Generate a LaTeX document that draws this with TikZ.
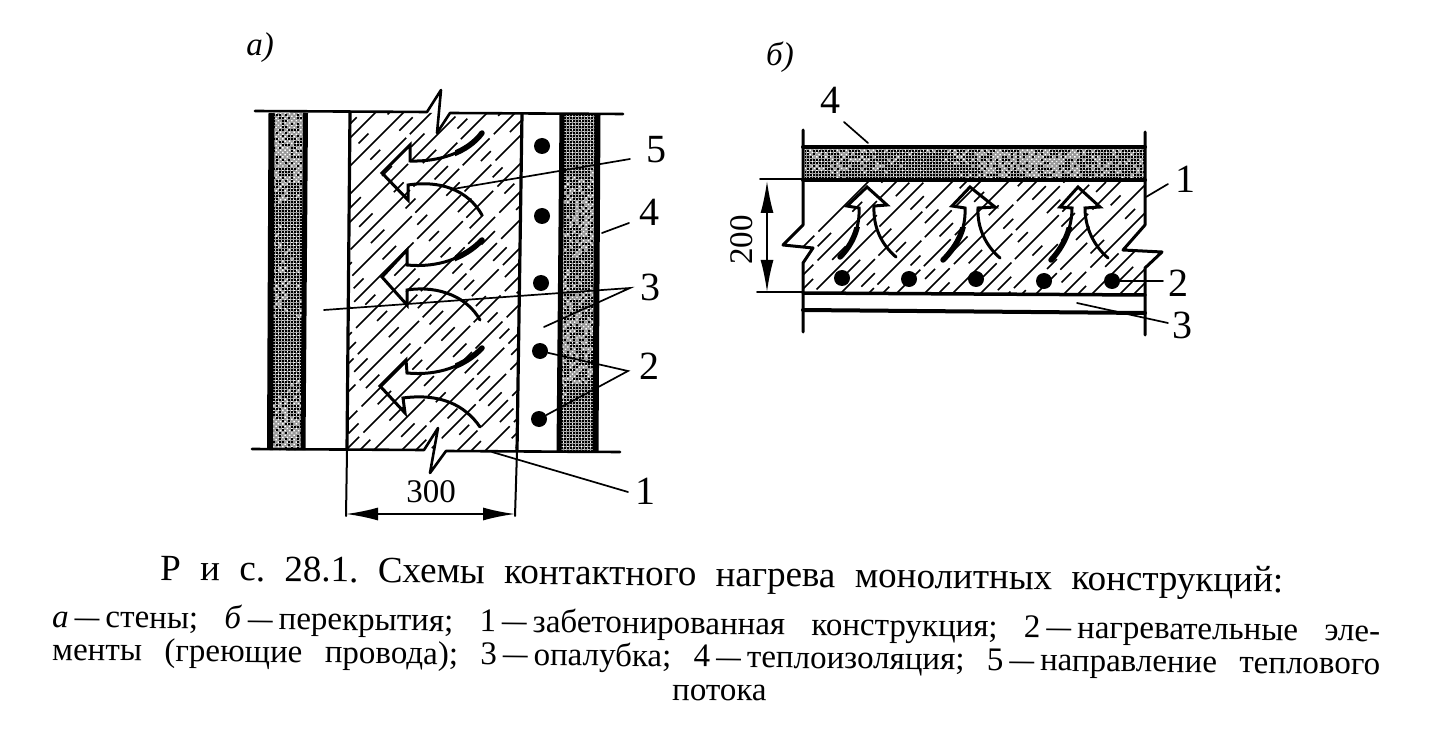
\documentclass[tikz,border=0pt]{standalone}
\usepackage{fontspec}
\usepackage{graphicx}
\setmainfont{Liberation Serif}
\usetikzlibrary{patterns.meta,arrows.meta}
\tikzset{
 x=1pt,y=-1pt,
 ln/.style={line width=2pt,line cap=round,line join=round},
 boldline/.style={line width=4pt,line cap=round,line join=miter},
 lead/.style={line width=1.7pt,line cap=round},
 flow/.style={line width=3pt,line cap=round,line join=miter},
 tailthick/.style={line width=5.5pt,line cap=round},
 hatch/.style={line width=1.5pt,dash pattern=on 62pt off 5pt on 38pt off 6pt on 84pt off 5pt},
 hatchb/.style={line width=1.5pt,dash pattern=on 19pt off 30pt on 14pt off 27pt},
 num/.style={font=\fontsize{40}{40}\selectfont,inner sep=0pt},
 dimtext/.style={font=\fontsize{33}{33}\selectfont,inner sep=0pt},
 capline/.style={font=\fontsize{37}{37}\selectfont,inner sep=0pt,anchor=base west,rotate=-0.62},
 subline/.style={font=\fontsize{33}{33}\selectfont,inner sep=0pt,anchor=base west,rotate=-0.62},
 wire/.style={circle,fill=black,minimum size=16pt,inner sep=0pt},
 dimarrow/.style={line width=1.7pt,{Latex[length=32pt,width=13pt]}-{Latex[length=32pt,width=13pt]}},
}
\newcommand{\dsh}{\hbox{\kern6pt\scalebox{0.75}[1]{—}\kern6pt}}
% stipple: polygon, then x-range, y-range; dark clusters vary with position
\newcommand{\stip}[5]{%
 \fill[black!40] #1;
 \fill[pattern={Dots[distance=3.2pt,radius=1pt,angle=45]},pattern color=white] #1;
 \begin{scope}
 \clip #1;
 \foreach \gx in {#2,...,#3}{\foreach \gy in {#4,...,#5}{%
   \pgfmathsetmacro{\lev}{0.30+0.24*sin(\gy*5.3+\gx*2.1)*sin(\gx*3.7-\gy*1.9)-rnd*0.55+0.15}%
   \pgfmathparse{\lev>0?1:0}%
   \ifnum\pgfmathresult=1 \fill[black] (\gx*3,\gy*3) rectangle ++(2.4,2.4);\fi
 }}
 \end{scope}
}
\begin{document}
\begin{tikzpicture}
\pgfmathsetseed{4711}
\useasboundingbox (0,0) rectangle (1437,743);
\fill[white] (0,0) rectangle (1437,743);
% ---------- a: insulation
\stip{(272,113) -- (306,113) -- (303,450) -- (270,450) -- cycle}{90}{102}{37}{150}
\stip{(562,114) -- (597,114) -- (595,451) -- (560,451) -- cycle}{186}{199}{38}{150}
\draw[line width=6pt] (271.5,113) -- (270,450);
\draw[line width=5pt] (305.5,113) -- (303,450);
\draw[line width=5pt] (562,114) -- (559,451);
\draw[line width=6pt] (597.5,114) -- (595.5,451);
% ---------- a: concrete hatch
\begin{scope}
\clip (350,112) -- (522,114) -- (517,451) -- (347,450) -- cycle;
\foreach \i in {0,...,19}{
 \draw[hatch,dash phase=\i*37 pt] (-20+28*\i,480) -- ++(420,-420);
 \draw[hatchb,dash phase=\i*23 pt] (-6+28*\i,480) -- ++(420,-420);
}
\end{scope}
\draw[ln,line width=3.2pt] (350,112) -- (347,450);
\draw[ln,line width=3.2pt] (522,114) -- (517,451);
\fill[white] (441,90) -- (427,112) -- (450,113) -- (437,133) -- cycle;
\draw[ln,line width=2.6pt] (255,111) -- (427,112) -- (441,90) -- (437,133) -- (450,113) -- (623,114);
\fill[white] (430,473) -- (424,450) -- (446,451) -- (438,428) -- cycle;
\draw[ln,line width=2.6pt] (252,449) -- (424,450) -- (438,428) -- (430,473) -- (446,451) -- (620,452);
% ---------- a: flow arrows
\draw[flow] (482,133) .. controls (468,152) and (440,162) .. (410,161) -- (410,145) -- (382,173) -- (408,200) -- (408,185) .. controls (440,180) and (468,190) .. (482,215);
\draw[flow] (482,240) .. controls (465,258) and (438,268) .. (407,265) -- (407,250) -- (382,277) -- (407,305) -- (407,290) .. controls (440,285) and (468,298) .. (480,320);
\draw[flow] (482,348) .. controls (465,366) and (438,376) .. (407,373) -- (406,360) -- (380,386) -- (405,413) -- (403,398) .. controls (440,393) and (465,405) .. (480,427);
\begin{scope}
\clip (455,120) rectangle (495,170);
\draw[tailthick] (482,133) .. controls (468,152) and (440,162) .. (410,161);
\end{scope}
\begin{scope}
\clip (455,228) rectangle (495,275);
\draw[tailthick] (482,240) .. controls (465,258) and (438,268) .. (407,265);
\end{scope}
\begin{scope}
\clip (455,336) rectangle (495,382);
\draw[tailthick] (482,348) .. controls (465,366) and (438,376) .. (407,373);
\end{scope}
% ---------- a: wires
\node[wire] (wa1) at (542,146) {};
\node[wire] (wa2) at (542,216) {};
\node[wire] (wa3) at (541,283) {};
\node[wire] (wa4) at (540,351) {};
\node[wire] (wa5) at (539,419) {};
% ---------- a: labels and leaders
\node[font=\itshape\fontsize{33}{33}\selectfont,inner sep=0pt] (pa) at (260,48) {а)};
\node[num] (a5) at (656,150) {5};
\node[num] (a4) at (649,212) {4};
\node[num] (a3) at (650,287) {3};
\node[num] (a2) at (649,366) {2};
\node[num] (a1) at (645,491) {1};
\coordinate (c5a) at (630,159); \coordinate (c5b) at (453,189);
\coordinate (c4a) at (629,223); \coordinate (c4b) at (602,233);
\coordinate (c3a) at (630,288); \coordinate (c3b) at (324,310); \coordinate (c3c) at (544,327);
\coordinate (c2a) at (628,371);
\coordinate (c1a) at (628,492); \coordinate (c1b) at (492,452);
\draw[lead] (c5a) -- (c5b);
\draw[lead] (c4a) -- (c4b);
\draw[lead] (c3b) -- (c3a) -- (c3c);
\draw[lead] (wa4) -- (c2a) -- (wa5);
\draw[lead] (c1a) -- (c1b);
% ---------- a: dimension
\coordinate (da) at (346,514); \coordinate (db) at (515,514);
\draw[ln] (347,451) -- (346,516);
\draw[ln] (517,451) -- (515,516);
\draw[dimarrow] (da) -- (db);
\node[dimtext] (d300) at (431,492) {300};
% ---------- b: insulation
\stip{(805,149) -- (1145,149) -- (1145,178) -- (805,178) -- cycle}{268}{382}{49}{59}
% ---------- b: concrete
\begin{scope}
\clip (803,180) -- (1145,180) -- (1145,225) -- (1123,250) -- (1162,252) -- (1145,268) -- (1145,293) -- (803,293) -- (803,263) -- (813,248) -- (783,245) -- (803,225) -- cycle;
\foreach \i in {0,...,16}{
 \draw[hatch,dash phase=\i*41 pt] (740+28*\i,310) -- ++(150,-150);
 \draw[hatchb,dash phase=\i*19 pt] (754+28*\i,310) -- ++(150,-150);
}
\end{scope}
\draw[ln,line width=3pt] (803,130) -- (803,225) -- (783,245) -- (813,248) -- (803,263) -- (803,332);
\draw[ln,line width=3pt] (1145,132) -- (1145,225) -- (1123,250) -- (1162,252) -- (1145,268) -- (1145,335);
\draw[boldline] (803,147) -- (1145,147);
\draw[boldline] (803,180) -- (1145,180);
\draw[boldline,line width=3.5pt] (803,293) -- (1145,295);
\draw[boldline] (803,310) -- (1145,313);
% ---------- b: flow arrows
\draw[flow] (840,257) .. controls (852,245) and (860,228) .. (859,208) -- (847,206) -- (867,187) -- (887,205) -- (874,206) .. controls (873,228) and (882,245) .. (896,257);
\draw[flow] (943,260) .. controls (958,245) and (966,228) .. (965,208) -- (952,206) -- (970,187) -- (995,207) -- (978,208) .. controls (977,228) and (986,246) .. (1000,258);
\draw[flow] (1051,260) .. controls (1064,246) and (1072,228) .. (1072,208) -- (1060,207) -- (1078,187) -- (1100,207) -- (1085,208) .. controls (1085,228) and (1094,246) .. (1108,258);
\begin{scope}
\clip (820,228) rectangle (1120,270);
\draw[tailthick] (840,257) .. controls (852,245) and (860,228) .. (859,208);
\draw[tailthick] (943,260) .. controls (958,245) and (966,228) .. (965,208);
\draw[tailthick] (1051,260) .. controls (1064,246) and (1072,228) .. (1072,208);
\end{scope}
% ---------- b: wires
\node[wire] (wb1) at (842,278) {};
\node[wire] (wb2) at (909,279) {};
\node[wire] (wb3) at (976,279) {};
\node[wire] (wb4) at (1044,281) {};
\node[wire] (wb5) at (1112,281) {};
% ---------- b: labels and leaders
\node[font=\itshape\fontsize{33}{33}\selectfont,inner sep=0pt] (pb) at (780,57) {б)};
\node[num] (b4) at (830,100) {4};
\node[num] (b1) at (1185,179) {1};
\node[num] (b2) at (1178,283) {2};
\node[num] (b3) at (1182,325) {3};
\coordinate (e4a) at (844,122); \coordinate (e4b) at (868,143);
\coordinate (e1a) at (1168,184); \coordinate (e1b) at (1146,197);
\coordinate (e2a) at (1163,281);
\coordinate (e3a) at (1168,323); \coordinate (e3b) at (1077,303);
\draw[lead] (e4a) -- (e4b);
\draw[lead] (e1a) -- (e1b);
\draw[lead] (e2a) -- (wb5);
\draw[lead] (e3a) -- (e3b);
% ---------- b: dimension
\coordinate (fa) at (767,181); \coordinate (fb) at (767,292);
\draw[ln] (760,179) -- (803,179);
\draw[ln] (757,292) -- (803,292);
\draw[dimarrow] (fa) -- (fb);
\node[dimtext,rotate=90] (d200) at (742,240) {200};
% ---------- caption
\frenchspacing
\node[capline] (l1) at (160,580) {\makebox[1123pt][s]{Р и с. 28.1. Схемы контактного нагрева монолитных конструкций:}};
\node[subline] (l2) at (52,627) {\makebox[1328pt][s]{\textit{а}\dsh{}стены; \textit{б}\dsh{}перекрытия; 1\dsh{}забетонированная конструкция; 2\dsh{}нагревательные эле-}};
\node[subline] (l3) at (52,660) {\makebox[1328pt][s]{менты (греющие провода); 3\dsh{}опалубка; 4\dsh{}теплоизоляция; 5\dsh{}направление теплового}};
\node[subline] (l4) at (672,700) {потока};
\end{tikzpicture}
\end{document}
